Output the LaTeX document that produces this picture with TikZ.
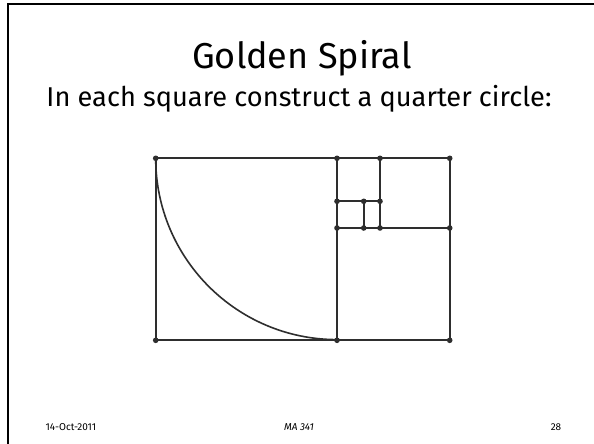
\documentclass[tikz,border=0pt]{standalone}
\usepackage{fontspec}
\setmainfont{Fira Sans}
\begin{document}
\begin{tikzpicture}[x=1pt,y=-1pt,
  frameline/.style={line width=2.4pt,black},
  gridline/.style={line width=2pt,black!82},
  arcline/.style={line width=1.6pt,black!82},
  vdot/.style={circle,fill=black!82,inner sep=0pt,minimum size=5.6pt},
  title/.style={anchor=base,font=\fontsize{36}{42}\selectfont},
  subtitle/.style={anchor=base,font=\fontsize{27.2}{32}\selectfont},
  footer/.style={font=\fontsize{10}{12}\selectfont}]
\fill[white] (0,0) rectangle (594,444);
\useasboundingbox (0,0) rectangle (594,444);
% frame
\coordinate (fTR) at (594,4);
\coordinate (fTL) at (8,4);
\coordinate (fBL) at (8,444);
\draw[frameline] (fTR) -- (fTL) -- (fBL);
% texts
\node[title] (ttl) at (302,69) {Golden Spiral};
\node[subtitle] (sub) at (299,106) {In each square construct a quarter circle:};
\node[footer,anchor=base west] (date) at (42,430) {14-Oct-2011};
\node[footer,anchor=base] (course) at (299,430) {\itshape MA 341};
\node[footer,anchor=base] (page) at (556,430) {28};
% vertices
\coordinate (A) at (155.7,158.3);
\coordinate (B) at (337,158.3);
\coordinate (C) at (380,158.3);
\coordinate (D) at (449.7,158.3);
\coordinate (E) at (337,201.3);
\coordinate (F) at (363.7,201.3);
\coordinate (G) at (380,201.3);
\coordinate (H) at (337,228);
\coordinate (I) at (363.7,228);
\coordinate (J) at (380,228);
\coordinate (K) at (449.7,228);
\coordinate (L) at (155.7,340.3);
\coordinate (M) at (337,340.3);
\coordinate (N) at (449.7,340.3);
% lines
\draw[gridline] (A) -- (D);
\draw[gridline] (L) -- (N);
\draw[gridline] (A) -- (L);
\draw[gridline] (B) -- (M);
\draw[gridline] (D) -- (N);
\draw[gridline] (C) -- (J);
\draw[gridline] (E) -- (G);
\draw[gridline] (H) -- (K);
\draw[gridline] (F) -- (I);
% quarter circle
\draw[arcline] (A) arc[start angle=180,end angle=270,radius=181.3pt];
% dots
\foreach \p in {A,B,C,D,E,F,G,H,I,J,K,L,M,N}
  \node[vdot] (dot\p) at (\p) {};
\end{tikzpicture}
\end{document}
